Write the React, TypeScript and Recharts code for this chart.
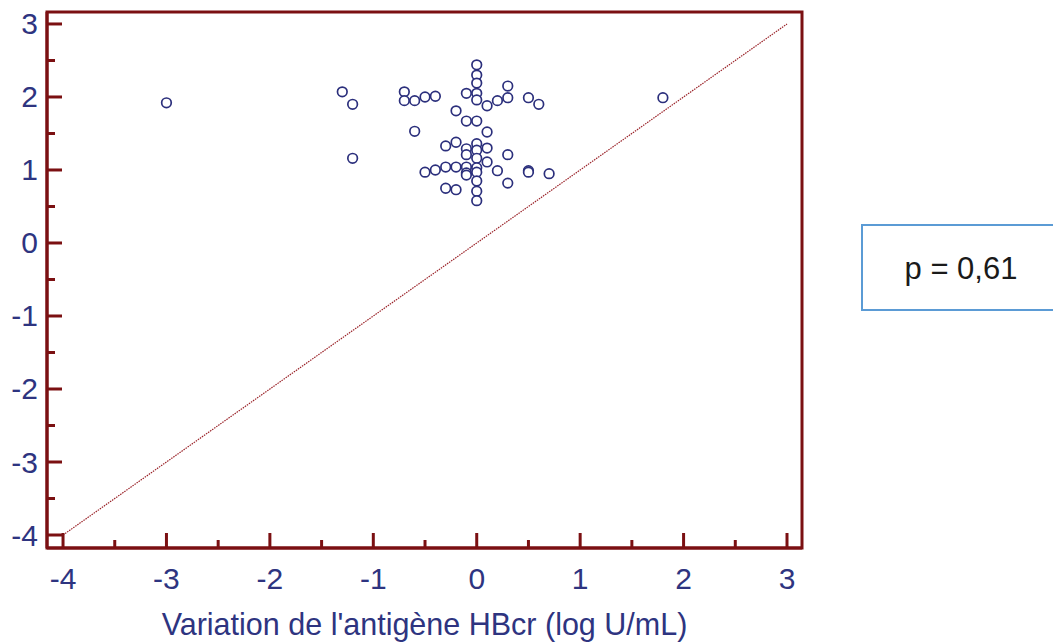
import { ScatterChart, Scatter, XAxis, YAxis, ReferenceLine, ReferenceArea } from "recharts";

// variation de l'antigène HBcr (x) vs second measure (y)
const xValues = [
  -3.0, -1.3, -1.2, -1.2, -0.7, -0.7, -0.6, -0.6, -0.5, -0.4,
  -0.1, 0, 0, 0, 0, 0, 0.1, 0.2, 0.3, 0.3,
  0.5, 0.6, 1.8, -0.2, -0.1, 0, 0.1, -0.3, -0.2, -0.1,
  -0.1, 0, 0, 0.1, 0, 0.1, 0.3, -0.5, -0.4, -0.3,
  -0.2, -0.1, -0.1, 0, 0, 0, 0, 0, 0.2, 0.3,
  0.5, 0.5, 0.7, -0.3, -0.2, -0.1,
];
const yValues = [
  1.92, 2.07, 1.9, 1.16, 2.07, 1.95, 1.95, 1.53, 2.0, 2.01,
  2.05, 2.44, 2.3, 2.19, 2.05, 1.96, 1.88, 1.95, 2.15, 1.99,
  1.99, 1.9, 1.99, 1.81, 1.67, 1.67, 1.52, 1.33, 1.38, 1.29,
  1.21, 1.36, 1.27, 1.3, 1.16, 1.11, 1.21, 0.97, 1.0, 1.04,
  1.04, 1.04, 0.96, 1.03, 0.97, 0.85, 0.71, 0.58, 0.99, 0.82,
  0.99, 0.97, 0.95, 0.75, 0.73, 0.93,
];

const xTicks = [-4, -3.5, -3, -2.5, -2, -1.5, -1, -0.5, 0, 0.5, 1, 1.5, 2, 2.5, 3];
const yTicks = [-4, -3.5, -3, -2.5, -2, -1.5, -1, -0.5, 0, 0.5, 1, 1.5, 2, 2.5, 3];
const xDomain = [-4.155, 3.145];
const yDomain = [-4.178, 3.164];
const identityLine = [{ x: -4, y: -4 }, { x: 3, y: 3 }];
const pValueText = "p = 0,61";
const xTitle = "Variation de l'antigène HBcr (log U/mL)";

const points = xValues.map((x, i) => ({ x, y: yValues[i] }));

const AXIS = "#7b1012";
const NAVY = "#2e3480";
const FONT = "'Liberation Sans', Arial, sans-serif";

const XTick = (props: any) => {
  const { x, y, payload } = props;
  const major = Number.isInteger(payload.value);
  return (
    <g>
      <line x1={x} x2={x} y1={y} y2={y - (major ? 15 : 8)} stroke={AXIS} strokeWidth={3} />
      {major && (
        <text x={x} y={y + 41} textAnchor="middle" fill={NAVY} fontSize={30} fontFamily={FONT}>
          {payload.value}
        </text>
      )}
    </g>
  );
};

const YTick = (props: any) => {
  const { x, y, payload } = props;
  const major = Number.isInteger(payload.value);
  return (
    <g>
      <line x1={x} x2={x + (major ? 15 : 8)} y1={y} y2={y} stroke={AXIS} strokeWidth={3} />
      {major && (
        <text x={x - 9} y={y + 10.5} textAnchor="end" fill={NAVY} fontSize={30} fontFamily={FONT}>
          {payload.value}
        </text>
      )}
    </g>
  );
};

const XTitle = (props: any) => {
  const { x, y, width } = props.viewBox;
  return (
    <text x={x + width / 2} y={y + 87} textAnchor="middle" fill={NAVY} fontSize={30.5} fontFamily={FONT}>
      {xTitle}
    </text>
  );
};

const Ring = (props: any) => (
  <circle cx={props.cx} cy={props.cy} r={4.8} fill="#fff" stroke="#2b2f7c" strokeWidth={1.7} />
);

export default function App() {
  return (
    <div style={{ position: "absolute", left: 0, top: 0, width: 1053, height: 643, overflow: "hidden", background: "#fff" }}>
      <ScatterChart width={1053} height={643} margin={{ top: 12, right: 251, bottom: 0, left: 0 }}>
        <XAxis
          type="number"
          dataKey="x"
          domain={xDomain}
          ticks={xTicks}
          interval={0}
          allowDataOverflow
          height={95}
          tickSize={0}
          tickMargin={0}
          tickLine={false}
          tick={<XTick />}
          axisLine={{ stroke: AXIS, strokeWidth: 3 }}
          label={<XTitle />}
        />
        <YAxis
          type="number"
          dataKey="y"
          domain={yDomain}
          ticks={yTicks}
          interval={0}
          allowDataOverflow
          width={47}
          tickSize={0}
          tickMargin={0}
          tickLine={false}
          tick={<YTick />}
          axisLine={{ stroke: AXIS, strokeWidth: 3 }}
        />
        <ReferenceArea
          x1={xDomain[0]}
          x2={xDomain[1]}
          y1={yDomain[0]}
          y2={yDomain[1]}
          fill="none"
          stroke={AXIS}
          strokeWidth={3}
        />
        <ReferenceLine segment={identityLine} stroke="#9a2228" strokeWidth={1.2} strokeDasharray="1.5 1" />
        <Scatter data={points} shape={<Ring />} isAnimationActive={false} />
      </ScatterChart>
      <div
        style={{
          position: "absolute",
          left: 861,
          top: 224,
          width: 200,
          height: 83,
          border: "2px solid #5b9bd5",
          background: "#fff",
          boxSizing: "content-box",
        }}
      >
        <div
          style={{
            position: "absolute",
            left: 0,
            width: 196,
            top: 0,
            lineHeight: "86px",
            textAlign: "center",
            fontFamily: FONT,
            fontSize: 31,
            color: "#1a1a1a",
          }}
        >
          {pValueText}
        </div>
      </div>
    </div>
  );
}
